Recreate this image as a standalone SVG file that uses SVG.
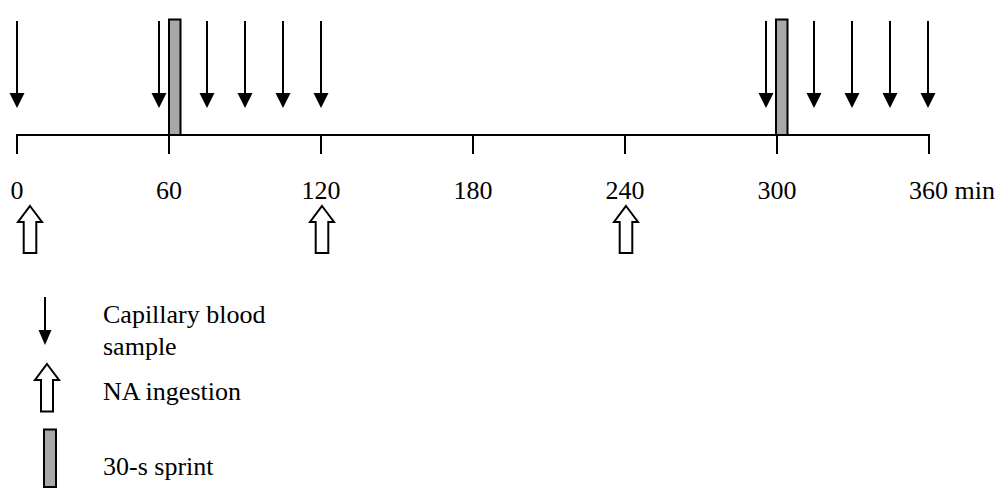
<svg xmlns="http://www.w3.org/2000/svg" width="996" height="500" viewBox="0 0 996 500">
<style>
.ax{stroke:#000;stroke-width:2;fill:none}
.sh{stroke:#000;stroke-width:2}
.hd{fill:#000}
.sp{fill:#a8a8a8;stroke:#000;stroke-width:2}
.ha{fill:#fff;stroke:#000;stroke-width:2;stroke-linejoin:miter}
</style>
<defs>
<g id="darrow"><line class="sh" x1="0" y1="21" x2="0" y2="95"/><polygon class="hd" points="-7.5,93 7.5,93 0,108"/></g>
<g id="harrow"><polygon class="ha" points="0,206 12,222 6.3,222 6.3,253 -6.3,253 -6.3,222 -12,222"/></g>
</defs>
<rect width="996" height="500" fill="#fff"/>
<g font-family="'Liberation Serif', 'Times New Roman', 'DejaVu Serif', serif" font-size="26" fill="#000">
<g id="axis">
<polyline class="ax" points="17,154 17,135 929,135 929,154"/>
<line class="ax" x1="169" y1="135" x2="169" y2="154"/>
<line class="ax" x1="321" y1="135" x2="321" y2="154"/>
<line class="ax" x1="473" y1="135" x2="473" y2="154"/>
<line class="ax" x1="625" y1="135" x2="625" y2="154"/>
<line class="ax" x1="777" y1="135" x2="777" y2="154"/>
<text x="17" y="199" text-anchor="middle">0</text>
<text x="169" y="199" text-anchor="middle">60</text>
<text x="321" y="199" text-anchor="middle">120</text>
<text x="473" y="199" text-anchor="middle">180</text>
<text x="625" y="199" text-anchor="middle">240</text>
<text x="777" y="199" text-anchor="middle">300</text>
<text x="909" y="199">360 min</text>
</g>
<g id="samples">
<use href="#darrow" x="17"/>
<use href="#darrow" x="159"/>
<use href="#darrow" x="207"/>
<use href="#darrow" x="245"/>
<use href="#darrow" x="283"/>
<use href="#darrow" x="321"/>
<use href="#darrow" x="766"/>
<use href="#darrow" x="814"/>
<use href="#darrow" x="852"/>
<use href="#darrow" x="890"/>
<use href="#darrow" x="928"/>
</g>
<g id="sprints">
<rect class="sp" x="169" y="19.5" width="11.5" height="115.5"/>
<rect class="sp" x="776" y="19.5" width="11.5" height="115.5"/>
</g>
<g id="ingestions">
<use href="#harrow" x="30"/>
<use href="#harrow" x="322"/>
<use href="#harrow" x="626"/>
</g>
<g id="legend">
<line class="sh" x1="45" y1="297" x2="45" y2="331"/>
<polygon class="hd" points="38.5,330 51.5,330 45,345"/>
<text x="103" y="323">Capillary blood</text>
<text x="103" y="355">sample</text>
<polygon class="ha" points="47,364 59,380 53,380 53,411.5 41,411.5 41,380 35,380"/>
<text x="103" y="400">NA ingestion</text>
<rect class="sp" x="44" y="429.5" width="12" height="57.5"/>
<text x="103" y="475">30-s sprint</text>
</g>
</g>
</svg>
